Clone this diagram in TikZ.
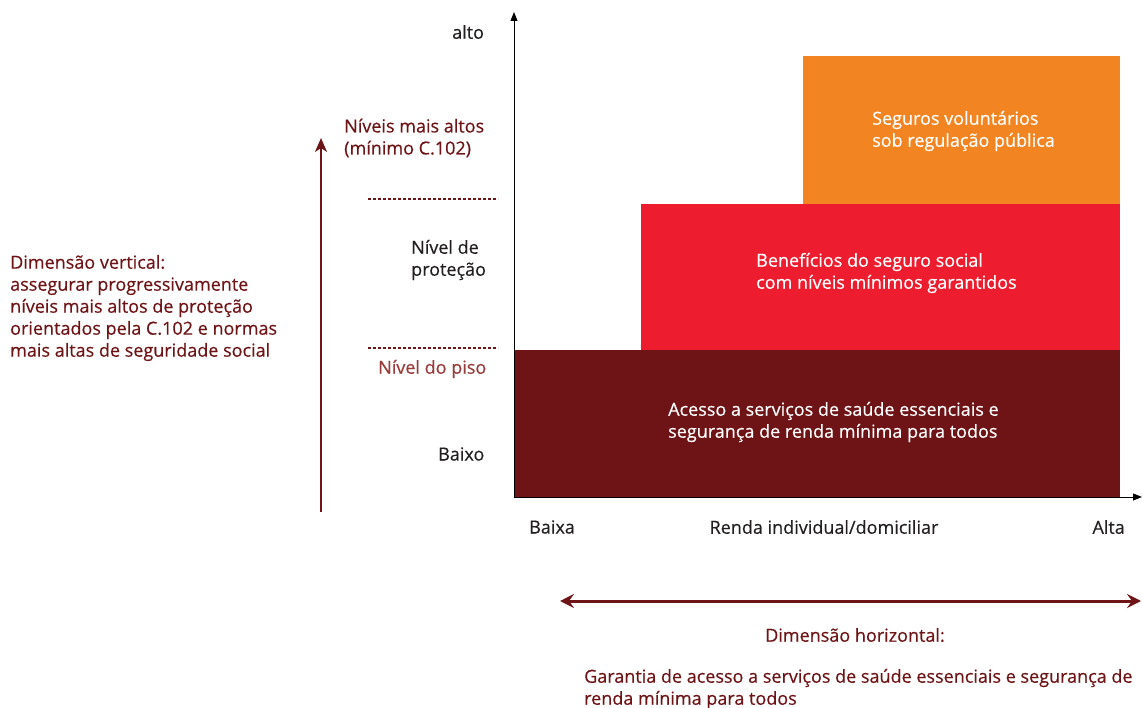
\documentclass[tikz,border=0pt]{standalone}
\usepackage{fontspec}
\setmainfont{Open Sans}[FakeBold=0.4]
\usetikzlibrary{arrows.meta}
\definecolor{dred}{HTML}{6E1416}
\definecolor{bred}{HTML}{ED1C2E}
\definecolor{orng}{HTML}{F28421}
\definecolor{txtg}{HTML}{231F20}
\definecolor{piso}{HTML}{9B3A3A}
\tikzset{
  lbl/.style={inner sep=0pt, font=\fontsize{18}{22}\selectfont, align=left},
  gl/.style={lbl, text=txtg},
  rl/.style={lbl, text=dred},
  wl/.style={lbl, text=white},
  dots/.style={draw=dred, line width=2.2pt, dash pattern=on 3pt off 2pt},
  axis/.style={draw=black, line width=1pt, -{Triangle[length=9pt,width=7pt]}},
}
\begin{document}
\begin{tikzpicture}[x=1pt,y=-1pt]
\useasboundingbox (0,0) rectangle (1142,708);
% boxes
\fill[dred] (514,350) rectangle (1120,497);
\fill[bred] (641,204) rectangle (1120,350);
\fill[orng] (803,56) rectangle (1120,204);
% axes
\coordinate (o) at (514,497);
\coordinate (ytip) at (514,12);
\coordinate (xtip) at (1142,497);
\draw[axis] (o) -- (ytip);
\draw[axis] (o) -- (xtip);
% box texts
\node[wl, anchor=west] (t1) at (872,131) {Seguros voluntários\\sob regulação pública};
\node[wl, anchor=west] (t2) at (756,273) {Benefícios do seguro social\\com níveis mínimos garantidos};
\node[wl, anchor=west] (t3) at (668,422) {Acesso a serviços de saúde essenciais e\\segurança de renda mínima para todos};
% vertical labels
\node[gl, anchor=west] (alto) at (452,32) {alto};
\node[rl, anchor=west] (niv) at (344,138) {Níveis mais altos\\(mínimo C.102)};
\node[gl, anchor=west] (prot) at (411,260) {Nível de\\proteção};
\node[lbl, text=piso, anchor=west] (piso) at (378,369) {Nível do piso};
\node[gl, anchor=west] (baixo) at (438,454) {Baixo};
\coordinate (d1a) at (368,199); \coordinate (d1b) at (498,199);
\coordinate (d2a) at (368,348); \coordinate (d2b) at (498,348);
\draw[dots] (d1a) -- (d1b);
\draw[dots, line width=1.6pt] (d2a) -- (d2b);
% vertical dimension arrow
\coordinate (va) at (321,512);
\coordinate (vb) at (321,138);
\draw[dred, line width=2pt, -{Stealth[length=14pt,width=12pt,inset=4pt]}] (va) -- (vb);
\node[rl, anchor=west] (vdim) at (10,308) {Dimensão vertical:\\assegurar progressivamente\\níveis mais altos de proteção\\orientados pela C.102 e normas\\mais altas de seguridade social};
% horizontal labels
\node[gl, anchor=west] (baixa) at (529,527) {Baixa};
\node[gl] (renda) at (824,527) {Renda individual/domiciliar};
\node[gl, anchor=east] (alta) at (1125,527) {Alta};
\coordinate (ha) at (560,601);
\coordinate (hb) at (1141,601);
\draw[dred, line width=3pt, {Stealth[length=14pt,width=14pt,inset=5pt]}-{Stealth[length=14pt,width=14pt,inset=5pt]}] (ha) -- (hb);
\node[rl] (hdim) at (855,635) {Dimensão horizontal:};
\node[rl, anchor=west] (hdesc) at (584,689) {Garantia de acesso a serviços de saúde essenciais e segurança de\\renda mínima para todos};
\end{tikzpicture}
\end{document}
